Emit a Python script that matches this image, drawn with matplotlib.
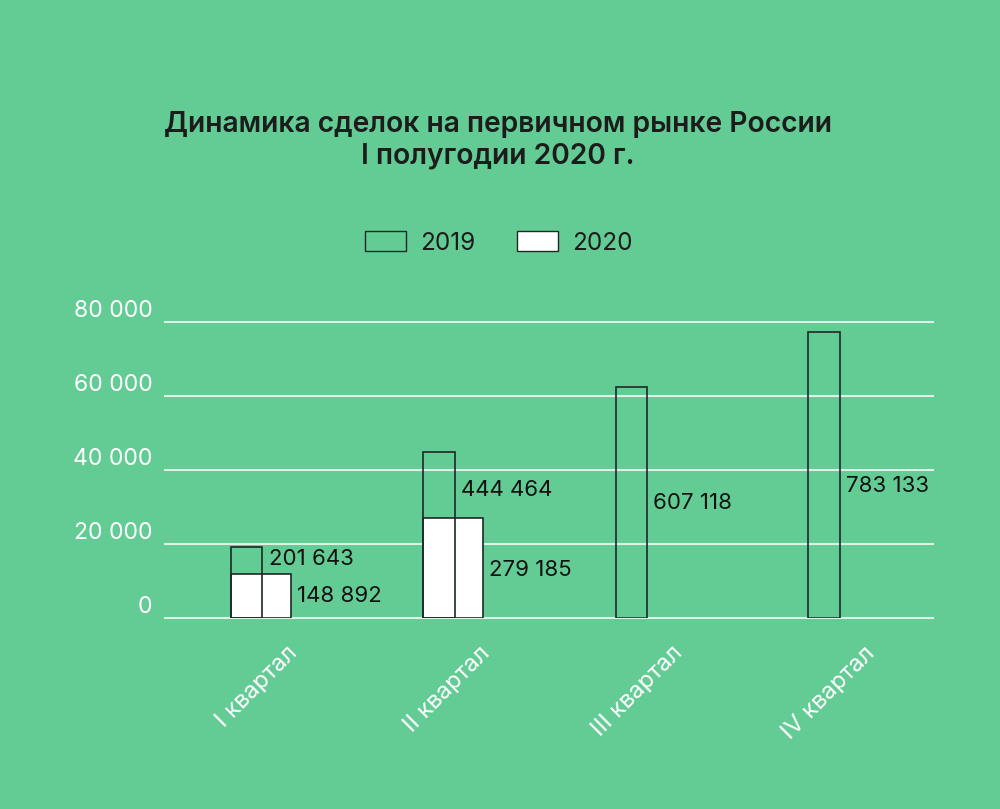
import matplotlib
matplotlib.use("Agg")
import matplotlib.pyplot as plt
from matplotlib.patches import Patch

plt.rcParams['font.family'] = ['Inter', 'DejaVu Sans']

bg = '#63cb94'
edge = '#1e2a24'

quarters = ['I квартал', 'II квартал', 'III квартал', 'IV квартал']
# bar heights
bars_2019 = [19330, 44980, 62530, 77220]
bars_2020 = [11880, 27160, 0, 0]
# printed values next to the bars
labels_2019 = ['201 643', '444 464', '607 118', '783 133']
labels_2020 = ['148 892', '279 185', None, None]
# label heights (axis units)
label_y_2019 = [16010, 34640, 31130, 35720]
label_y_2020 = [6020, 13040, None, None]
yticks = [0, 20000, 40000, 60000, 80000]
ytick_labels = ['0', '20 000', '40 000', '60 000', '80 000']

w19 = 0.163
w20 = 0.312

fig = plt.figure(figsize=(10, 8.09), dpi=100, facecolor=bg)
ax = fig.add_axes([0.165, 0.2357, 0.768, 0.3663])
ax.set_facecolor(bg)

x = list(range(len(quarters)))

for yv in yticks:
    ax.axhline(yv, color='white', alpha=0.8, lw=1.5, zorder=0, clip_on=False)

for i in x:
    if bars_2020[i] > 0:
        ax.bar(i, bars_2020[i], width=w20, align='edge', color='white',
               edgecolor=edge, linewidth=1.2, zorder=2)
    ax.bar(i, bars_2019[i], width=w19, align='edge', color='none',
           edgecolor=edge, linewidth=1.2, zorder=3)

for i in x:
    ax.annotate(labels_2019[i], (i + w19, label_y_2019[i]), xytext=(4.5, 0),
                textcoords='offset points', ha='left', va='center',
                fontsize=16, color='#111111')
    if labels_2020[i]:
        ax.annotate(labels_2020[i], (i + w20, label_y_2020[i]), xytext=(4, 0),
                    textcoords='offset points', ha='left', va='center',
                    fontsize=16, color='#111111')

ax.set_xlim(-0.343, 3.649)
ax.set_ylim(0, 80000)

ax.set_yticks(yticks)
ax.set_yticklabels(ytick_labels)
for lab in ax.get_yticklabels():
    lab.set_verticalalignment('bottom')
ax.tick_params(axis='y', length=0, pad=9, labelsize=16.5, labelcolor='white')

ax.set_xticks([i + 0.29 for i in x])
ax.set_xticklabels(quarters, rotation=45, ha='right', va='top',
                   rotation_mode='anchor')
ax.tick_params(axis='x', length=0, pad=17, labelsize=17, labelcolor='white')

for s in ax.spines.values():
    s.set_visible(False)

fig.text(0.498, 1 - 140 / 809, 'Динамика сделок на первичном рынке России\nI полугодии 2020 г.',
         ha='center', va='center', fontsize=20.3, fontweight='semibold',
         color='#1c1c1c', linespacing=1.2)

handles = [Patch(facecolor=bg, edgecolor=edge, linewidth=1.0, label='2019'),
           Patch(facecolor='white', edgecolor=edge, linewidth=1.0, label='2020')]
fig.legend(handles=handles, loc='center', bbox_to_anchor=(0.499, 1 - 243 / 809),
           ncol=2, frameon=False, fontsize=17.5, handlelength=1.69,
           handleheight=0.86, handletextpad=0.58, columnspacing=1.69,
           labelcolor='#1c1c1c')

fig.savefig('out.png', dpi=100, facecolor=bg)
